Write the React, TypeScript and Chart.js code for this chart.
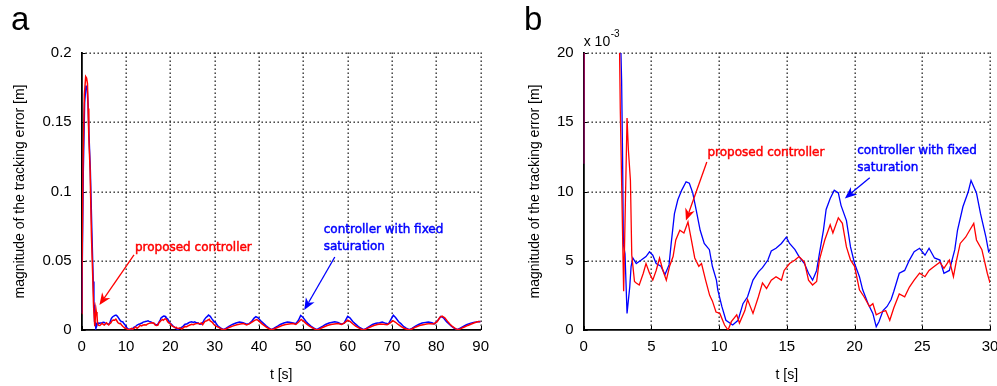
import React, { useEffect, useRef } from 'react';
import { Chart, registerables } from 'chart.js';
Chart.register(...registerables);

// ---- data (error magnitude in 1e-3 m) ----
const tBlue = [0, 0.08, 0.36, 0.66, 0.95, 1.2, 1.45, 1.65, 1.95, 2.3, 2.6, 2.75, 2.8, 2.87, 2.93, 3.05, 3.2, 3.4, 3.5, 3.63, 3.88, 4.25, 4.6, 4.86, 5.1, 5.35, 5.7, 6.0, 6.3, 6.46, 6.7, 6.95, 7.24, 7.56, 7.8, 8.05, 8.3, 8.6, 8.9, 9.28, 9.5, 9.8, 9.9, 10.2, 10.5, 11.0, 11.4, 11.76, 12.1, 12.5, 12.9, 13.2, 13.6, 13.85, 14.2, 14.6, 14.96, 15.2, 15.6, 15.9, 16.3, 16.6, 16.9, 17.2, 17.4, 17.7, 17.9, 18.2, 18.5, 18.8, 19.0, 19.4, 19.7, 20.0, 20.36, 20.6, 21.0, 21.35, 21.6, 21.8, 22.1, 22.4, 22.7, 22.9, 23.3, 23.7, 24.05, 24.4, 24.8, 25.2, 25.5, 25.9, 26.3, 26.6, 27.0, 27.4, 27.6, 28.0, 28.4, 28.6, 29.0, 29.3, 29.7, 29.9, 30.1];
const blueErr = [12, 34, 115, 164, 176, 176, 162, 140, 115, 70, 35, 20, 18, 12.5, 6.2, 5.5, 1.2, 3.1, 4.6, 5.2, 4.8, 5.05, 5.3, 5.65, 5.4, 4.8, 4.6, 4.0, 4.7, 6.25, 8.4, 9.4, 10.1, 10.7, 10.6, 9.9, 8.7, 7.2, 6.25, 5.8, 4.6, 3.6, 2.9, 1.7, 0.7, 0.36, 0.7, 1.9, 2.4, 3.6, 4.2, 4.5, 5.05, 5.7, 5.9, 6.25, 6.7, 6.25, 5.8, 5.3, 4.8, 4.1, 3.6, 4.3, 5.5, 7.2, 8.7, 9.5, 10.1, 9.9, 9.0, 7.9, 6.0, 4.8, 3.85, 2.9, 1.9, 1.2, 0.24, 0.6, 1.4, 1.7, 2.2, 2.8, 4.1, 4.3, 5.05, 5.65, 5.9, 5.4, 5.9, 5.2, 5.05, 4.1, 4.3, 5.8, 7.2, 8.9, 10.0, 10.8, 9.9, 8.4, 6.7, 5.65, 5.9];

const tRed = [0, 0.05, 0.3, 0.6, 0.9, 1.1, 1.3, 1.45, 1.6, 1.9, 2.2, 2.5, 2.65, 2.7, 2.95, 3.2, 3.3, 3.45, 3.55, 3.75, 3.88, 4.1, 4.4, 4.6, 4.86, 5.1, 5.35, 5.6, 5.85, 6.1, 6.34, 6.6, 6.8, 7.1, 7.4, 7.7, 7.95, 8.2, 8.5, 8.7, 9.0, 9.3, 9.5, 9.77, 10.05, 10.4, 10.66, 10.9, 11.3, 11.5, 11.9, 12.1, 12.5, 12.9, 13.2, 13.5, 13.85, 14.2, 14.6, 14.8, 15.2, 15.6, 15.9, 16.3, 16.6, 16.9, 17.2, 17.4, 17.8, 18.2, 18.4, 18.8, 19.1, 19.4, 19.7, 20.0, 20.36, 20.7, 21.1, 21.35, 21.6, 22.0, 22.3, 22.6, 22.9, 23.3, 23.7, 24.05, 24.4, 24.8, 25.2, 25.5, 25.9, 26.3, 26.6, 27.0, 27.3, 27.5, 27.8, 28.2, 28.5, 28.8, 29.0, 29.4, 29.8, 30.0];
const redErr = [12, 36, 120, 170, 183, 182, 178, 160, 140, 115, 68, 38, 20, 16, 2.8, 15.3, 13, 10.8, 5.4, 3.5, 3.4, 3.25, 4.1, 4.8, 4.1, 3.6, 4.3, 5.2, 4.3, 3.6, 4.6, 5.3, 6.5, 7.2, 7.0, 7.8, 6.5, 5.2, 4.6, 4.8, 3.6, 2.5, 2.1, 1.3, 1.2, 0.36, 0, 0.6, 1.1, 0.5, 1.4, 2.2, 1.2, 2.4, 3.4, 3.0, 3.6, 3.85, 3.6, 4.3, 4.8, 5.05, 5.3, 4.9, 3.6, 3.25, 3.5, 5.05, 6.5, 7.6, 7.0, 8.1, 7.7, 6.0, 5.05, 4.6, 2.9, 2.4, 1.7, 1.9, 1.1, 1.3, 1.4, 0.7, 1.6, 2.6, 2.4, 3.1, 3.6, 4.1, 3.85, 4.3, 4.6, 4.9, 4.45, 5.05, 3.85, 4.9, 6.25, 6.7, 7.2, 7.7, 6.5, 5.8, 4.1, 3.4];

const tBlueLong = [30.7, 31.3, 32.0, 32.6, 33.3, 34.0, 34.8, 35.6, 36.4, 37.2, 37.8, 38.4, 38.9, 39.3, 39.8, 40.5, 41.0, 41.6, 42.1, 42.8, 43.4, 44.2, 44.8, 45.6, 46.4, 46.9, 47.7, 48.3, 48.9, 49.4, 49.9, 50.6, 51.0, 51.7, 52.3, 53.0, 53.6, 54.4, 55.0, 55.8, 56.6, 57.1, 57.8, 58.6, 59.2, 59.6, 60.0, 60.5, 61.2, 61.6, 62.3, 62.8, 63.6, 64.2, 65.0, 65.6, 66.4, 67.2, 67.8, 68.6, 69.2, 69.8, 70.3, 70.8, 71.5, 72.0, 72.6, 73.2, 73.9, 74.5, 75.3, 76.0, 76.8, 77.6, 78.2, 79.0, 79.6, 80.3, 81.0, 81.6, 82.3, 82.8, 83.4, 84.0, 84.7, 85.3, 86.1, 86.8, 87.6, 88.4, 89.0, 89.6, 90.0];
const blueLong = [2.9, 1.6, 0.3, 1.4, 2.8, 4.0, 5.0, 5.8, 5.3, 4.2, 4.6, 6.5, 8.6, 9.7, 8.8, 6.2, 4.8, 3.0, 1.8, 0.3, 1.3, 2.8, 4.0, 5.0, 5.8, 5.6, 5.0, 4.5, 7.0, 10.5, 9.2, 6.2, 4.8, 2.8, 1.5, 0.2, 1.3, 2.8, 4.0, 5.0, 5.6, 6.0, 5.5, 4.2, 5.0, 7.5, 9.9, 8.8, 6.0, 4.8, 2.8, 1.6, 0.3, 1.2, 2.8, 4.0, 4.8, 5.3, 5.8, 4.8, 4.4, 7.8, 10.6, 9.0, 6.0, 4.6, 2.6, 1.4, 0.2, 1.2, 2.8, 4.0, 5.0, 5.5, 5.8, 5.2, 4.4, 6.8, 9.8, 8.8, 6.0, 4.6, 2.7, 1.4, 0.2, 1.2, 2.6, 3.8, 4.8, 5.5, 5.8, 6.2, 6.0];

const tRedLong = [30.4, 31.0, 31.6, 32.2, 32.8, 33.5, 34.2, 35.0, 35.8, 36.5, 37.2, 37.8, 38.5, 39.0, 39.5, 40.0, 40.6, 41.2, 41.8, 42.5, 43.0, 43.6, 44.4, 45.2, 46.0, 46.8, 47.6, 48.3, 49.0, 49.5, 50.1, 50.7, 51.3, 52.0, 52.6, 53.2, 53.8, 54.6, 55.4, 56.2, 57.0, 57.8, 58.6, 59.3, 60.0, 60.6, 61.2, 61.8, 62.5, 63.1, 63.7, 64.3, 65.1, 65.9, 66.7, 67.4, 68.1, 68.9, 69.6, 70.2, 70.8, 71.4, 72.0, 72.7, 73.4, 74.0, 74.6, 75.4, 76.2, 77.0, 77.8, 78.6, 79.4, 80.2, 80.8, 81.3, 81.9, 82.5, 83.1, 83.7, 84.3, 84.9, 85.5, 86.3, 87.1, 87.9, 88.6, 89.3, 90.0];
const redLong = [2.6, 1.7, 0.5, 0.2, 1.2, 2.2, 3.0, 3.8, 4.3, 4.6, 3.7, 4.4, 5.8, 7.0, 7.6, 6.4, 4.6, 3.2, 1.8, 0.5, 0.2, 1.1, 2.2, 3.2, 3.9, 4.3, 4.6, 4.0, 6.0, 7.6, 6.2, 4.4, 3.0, 1.6, 0.6, 0.1, 1.0, 2.2, 3.2, 3.9, 4.3, 4.6, 4.0, 5.2, 7.1, 6.0, 4.3, 2.8, 1.5, 0.6, 0.1, 1.0, 2.2, 3.2, 3.9, 4.4, 4.2, 3.8, 5.2, 6.7, 5.6, 4.0, 2.6, 1.3, 0.5, 0.0, 0.9, 2.2, 3.2, 3.8, 4.3, 4.6, 4.4, 6.0, 9.2, 10.1, 8.8, 6.4, 4.2, 2.4, 1.0, 0.3, 1.0, 2.2, 3.3, 4.3, 5.2, 6.0, 6.2];

// ---- ticks ----
const xTicksA = [0, 10, 20, 30, 40, 50, 60, 70, 80, 90];
const yTicksA = [0, 0.05, 0.1, 0.15, 0.2];
const yLabelsA = ['0', '0.05', '0.1', '0.15', '0.2'];
const xTicksB = [0, 5, 10, 15, 20, 25, 30];
const yTicksB = [0, 5, 10, 15, 20];
const yLabelsB = ['0', '5', '10', '15', '20'];

const RED = '#ff0000';
const BLUE = '#0000ff';
const SANS = '"Liberation Sans", Arial, Helvetica, sans-serif';
const ANN = '"DejaVu Sans", Verdana, sans-serif';

// annotations in data coordinates
const textsA = [
  { text: 'proposed controller', x: 12.0, y: 0.0592, color: RED },
  { text: 'controller with fixed', x: 54.6, y: 0.0722, color: BLUE },
  { text: 'saturation', x: 54.6, y: 0.06, color: BLUE },
];
const arrowsA = [
  { x1: 11.8, y1: 0.0542, x2: 4.0, y2: 0.018, color: RED },
  { x1: 57.1, y1: 0.0527, x2: 50.2, y2: 0.0144, color: BLUE },
];
const textsB = [
  { text: 'proposed controller', x: 9.14, y: 12.76, color: RED },
  { text: 'controller with fixed', x: 20.19, y: 12.92, color: BLUE },
  { text: 'saturation', x: 20.19, y: 11.67, color: BLUE },
];
const arrowsB = [
  { x1: 9.09, y1: 12.13, x2: 7.55, y2: 7.9, color: RED },
  { x1: 21.12, y1: 11.0, x2: 19.28, y2: 9.5, color: BLUE },
];

function pts(ts: number[], vs: number[], k: number) {
  return ts.map((t, i) => ({ x: t, y: vs[i] * k }));
}

function drawArrow(ctx: CanvasRenderingContext2D, x1: number, y1: number, x2: number, y2: number, color: string) {
  const a = Math.atan2(y2 - y1, x2 - x1);
  const L = 12, W = 5;
  const c = Math.cos(a), s = Math.sin(a);
  ctx.save();
  ctx.strokeStyle = color;
  ctx.fillStyle = color;
  ctx.lineWidth = 1.3;
  ctx.beginPath();
  ctx.moveTo(x1, y1);
  ctx.lineTo(x2 - c * L * 0.7, y2 - s * L * 0.7);
  ctx.stroke();
  ctx.beginPath();
  ctx.moveTo(x2, y2);
  ctx.lineTo(x2 - c * L - s * W, y2 - s * L + c * W);
  ctx.lineTo(x2 - c * L * 0.7, y2 - s * L * 0.7);
  ctx.lineTo(x2 - c * L + s * W, y2 - s * L - c * W);
  ctx.closePath();
  ctx.fill();
  ctx.restore();
}

function makeChart(canvas: HTMLCanvasElement, p: any) {
  const extras = {
    id: 'extras' + p.letter,
    beforeDatasetsDraw(chart: any) {
      const { ctx, chartArea } = chart;
      const xs = chart.scales.x, ys = chart.scales.y;
      ctx.save();
      ctx.fillStyle = '#222';
      // dotted grid, drawn as small squares
      p.xTicks.forEach((v: number, i: number) => {
        if (i === 0) return;
        const x = Math.round(xs.getPixelForValue(v));
        for (let y = chartArea.top; y <= chartArea.bottom; y += 4) {
          ctx.fillRect(x - 0.5, Math.round(y) - 0.5, 1.4, 1.4);
        }
      });
      p.yTicks.forEach((v: number, i: number) => {
        if (i === 0) return;
        const y = Math.round(ys.getPixelForValue(v));
        for (let x = chartArea.left + 4; x <= chartArea.right; x += 4) {
          ctx.fillRect(Math.round(x) - 0.5, y - 0.5, 1.4, 1.4);
        }
      });
      // inward tick marks
      ctx.strokeStyle = '#000';
      ctx.lineWidth = 1;
      for (const v of p.xTicks) {
        const x = Math.round(xs.getPixelForValue(v)) + 0.5;
        ctx.beginPath();
        ctx.moveTo(x, chartArea.bottom);
        ctx.lineTo(x, chartArea.bottom - 4);
        ctx.stroke();
      }
      for (const v of p.yTicks) {
        const y = Math.round(ys.getPixelForValue(v)) + 0.5;
        ctx.beginPath();
        ctx.moveTo(chartArea.left, y);
        ctx.lineTo(chartArea.left + 4, y);
        ctx.stroke();
      }
      ctx.restore();
    },
    afterDatasetsDraw(chart: any) {
      const { ctx, chartArea } = chart;
      const xs = chart.scales.x, ys = chart.scales.y;
      ctx.save();
      for (const ar of p.arrows) {
        drawArrow(ctx, xs.getPixelForValue(ar.x1), ys.getPixelForValue(ar.y1), xs.getPixelForValue(ar.x2), ys.getPixelForValue(ar.y2), ar.color);
      }
      ctx.font = '12px ' + ANN;
      ctx.textBaseline = 'middle';
      ctx.textAlign = 'left';
      ctx.lineWidth = 0.45;
      for (const t of p.texts) {
        ctx.fillStyle = t.color;
        ctx.strokeStyle = t.color;
        const tx = xs.getPixelForValue(t.x), ty = ys.getPixelForValue(t.y);
        ctx.fillText(t.text, tx, ty);
        ctx.strokeText(t.text, tx, ty);
      }
      // panel letter
      ctx.fillStyle = '#000';
      ctx.textBaseline = 'alphabetic';
      ctx.font = '33px ' + SANS;
      ctx.fillText(p.letter, p.letterX, 29.5);
      if (p.exponent) {
        ctx.font = '14px ' + SANS;
        ctx.textBaseline = 'middle';
        const bx = chartArea.left;
        const by = chartArea.top - 10.7;
        ctx.fillText('x 10', bx, by);
        const w = ctx.measureText('x 10').width;
        ctx.font = '10px ' + SANS;
        ctx.fillText('-3', bx + w + 0.5, by - 8.5);
      }
      ctx.restore();
    },
  };

  return new Chart(canvas, {
    type: 'line',
    data: {
      datasets: [
        { label: 'proposed controller', data: p.red, borderColor: RED, borderWidth: p.lw, pointRadius: 0, fill: false, tension: 0 },
        { label: 'controller with fixed saturation', data: p.blue, borderColor: BLUE, borderWidth: p.lw, pointRadius: 0, fill: false, tension: 0 },
      ],
    },
    options: {
      animation: false,
      responsive: false,
      maintainAspectRatio: false,
      layout: { padding: { left: 0, top: 53, right: p.padRight, bottom: 0 } },
      plugins: { legend: { display: false }, tooltip: { enabled: false } },
      scales: {
        x: {
          type: 'linear',
          min: p.xTicks[0],
          max: p.xTicks[p.xTicks.length - 1],
          afterBuildTicks: (s: any) => { s.ticks = p.xTicks.map((v: number) => ({ value: v })); },
          afterFit: (s: any) => { s.height = 56; },
          ticks: { callback: (v: any) => String(v), font: { family: SANS, size: 15 }, color: '#000', padding: 8, maxRotation: 0, autoSkip: false },
          grid: { display: false, drawTicks: false },
          border: { display: true, color: '#000', width: 1.8 },
          title: { display: true, text: 't [s]', font: { family: SANS, size: 14 }, color: '#000', padding: { top: 0, bottom: 2.6 } },
        },
        y: {
          type: 'linear',
          min: p.yTicks[0],
          max: p.yTicks[p.yTicks.length - 1],
          afterBuildTicks: (s: any) => { s.ticks = p.yTicks.map((v: number) => ({ value: v })); },
          afterFit: (s: any) => { s.width = p.yWidth; },
          ticks: { callback: (_v: any, i: number) => p.yLabels[i], font: { family: SANS, size: 15 }, color: '#000', padding: 10, autoSkip: false },
          grid: { display: false, drawTicks: false },
          border: { display: true, color: '#000', width: 1.8 },
          title: { display: true, text: 'magnitude of the tracking error [m]', font: { family: SANS, size: 14 }, color: '#000', padding: { top: p.yTitlePad, bottom: 0 } },
        },
      },
    },
    plugins: [extras],
  } as any);
}

export default function App() {
  const refA = useRef<HTMLCanvasElement>(null);
  const refB = useRef<HTMLCanvasElement>(null);

  useEffect(() => {
    const redAll = pts(tRed, redErr, 0.001).concat(pts(tRedLong, redLong, 0.001));
    const blueAll = pts(tBlue, blueErr, 0.001).concat(pts(tBlueLong, blueLong, 0.001));
    const a = makeChart(refA.current!, {
      letter: 'a', letterX: 11, red: redAll, blue: blueAll, lw: 1.5,
      xTicks: xTicksA, yTicks: yTicksA, yLabels: yLabelsA,
      texts: textsA, arrows: arrowsA, padRight: 8, yWidth: 81.7, yTitlePad: 11.6, exponent: false,
    });
    const b = makeChart(refB.current!, {
      letter: 'b', letterX: 27, red: pts(tRed, redErr, 1), blue: pts(tBlue, blueErr, 1), lw: 1.3,
      xTicks: xTicksB, yTicks: yTicksB, yLabels: yLabelsB,
      texts: textsB, arrows: arrowsB, padRight: 17, yWidth: 86.7, yTitlePad: 29.6, exponent: true,
    });
    return () => { a.destroy(); b.destroy(); };
  }, []);

  return (
    <div style={{ position: 'absolute', left: 0, top: 0, width: 997, height: 386, overflow: 'hidden', background: '#fff' }}>
      <canvas ref={refA} width={497} height={386} style={{ position: 'absolute', left: 0, top: 0 }} />
      <canvas ref={refB} width={510} height={386} style={{ position: 'absolute', left: 497, top: 0 }} />
    </div>
  );
}
